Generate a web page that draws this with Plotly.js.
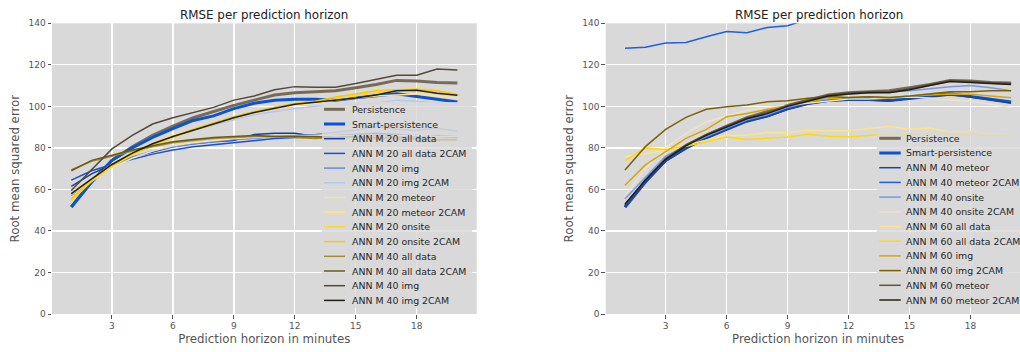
<!DOCTYPE html>
<html>
<head>
<meta charset="utf-8">
<script src="https://cdn.plot.ly/plotly-3.0.1.min.js"></script>
<style>
html,body{margin:0;padding:0;overflow:hidden;background:#ffffff;}
#chart{width:1040px;height:352px;}
</style>
</head>
<body>
<div id="chart"></div>
<script>
// ---------------- data ----------------
const minutes = [1,2,3,4,5,6,7,8,9,10,11,12,13,14,15,16,17,18,19,20];
const xTicks = [3,6,9,12,15,18];
const yTicks = [0,20,40,60,80,100,120,140];
const chartTitle = "RMSE per prediction horizon";
const xTitle = "Prediction horizon in minutes";
const yTitle = "Root mean squared error";

const persistence      = [51.5,63.5,74,80.5,86,90.5,94.5,97.5,100.5,103,105.5,106.5,107,107.5,109,110.5,112.5,112.2,111.5,111.2];
const smartPersistence = [51.5,63.7,74,80,85,89.3,93.2,95.4,98.9,101.5,102.9,103.4,103.4,102.9,104.2,105.3,106.1,104.8,103.5,102.1];

// left panel (ANN M 20 / ANN M 40)
const m20AllData      = [61.5,67.5,72,75.5,78,80.5,82,83,83.5,86.5,87,87,85.5,86,86.5,87,86.5,86,85.5,85];
const m20AllData2CAM  = [64.5,69,72,74.5,77,79,80.5,81.5,82.5,83.5,84.5,85,85.5,85,85.5,86,86,85.5,86,85.5];
const m20Img          = [57,64,71,75.5,78.5,80.5,82,83,84,84.5,85.5,86,86.5,87.5,88.5,90.5,89,88.5,89.5,88];
const m20Img2CAM      = [57.5,65,72,77,81.5,85,88.5,91,93.5,96,97.5,99,100,100.5,101,101.5,103,102.5,101.5,100.5];
const m20Meteor       = [56,64,70.5,75,78.5,81,82.5,83.5,84.5,85,85.5,85.5,86,86,86,85.5,86,86,85.5,85.5];
const m20Meteor2CAM   = [56,65,72,77.5,82,86,89,92,94.5,97,99,100.5,101.5,103,104,105,105.5,106,105,104];
const m20Onsite       = [54.5,64,71,76.5,81,85,88.5,91.5,94.5,97,99.5,101,102,103.5,105,106.5,108,108.5,107.5,106];
const m20Onsite2CAM   = [55.5,65,72,77,81.5,85.5,89,92,95,97.5,99.5,101.5,102.5,104.5,106,107.5,108,108,107.5,105.5];
const m40AllData      = [69.5,73.5,76,78.5,80.5,82.5,83.5,84.5,85,85.5,85.5,85,84.5,85,85,84.5,84,84,83.5,83.5];
const m40AllData2CAM  = [69,74,76.5,79,81,83,84,85,85.5,86,85.5,85.5,85.5,85,85.5,85,85,84.5,84,84];
const m40Img          = [59.5,69.5,79.5,86,91.5,94.5,97,99.5,103,105,108,109.5,109.2,109.2,111,113,115,115,118,117.5];
const m40Img2CAM      = [58,65,72,77.5,82,85.5,88.5,91.5,94.5,97,99,101,102,103,104,105.5,107.5,107.8,106.3,105.4];

// right panel (ANN M 40 / ANN M 60)
const m40Meteor       = [51.5,63.5,73.5,79.5,84.5,88.5,92.5,95,98.5,101,102.5,103,103,102.5,103.5,104.5,105.5,104.5,103,101.5];
const m40Meteor2CAM   = [128,128.5,130.5,130.8,133.5,136,135.5,138,138.8,142,144,145,146,147,148,149,150,150,151,151];
const m40Onsite       = [55.5,66,76,81,85.5,89.5,93.5,96,99.5,102,104.5,106,106.5,107,107.5,108.5,109.5,110,109,107.5];
const m40Onsite2CAM   = [57,70,80,87,92.5,95.5,98,99.5,100.5,101.5,102.5,103.5,103.5,104,104.5,104,103,102.5,101,99.5];
const m60AllData      = [75.8,77.2,79,81.3,83.7,86.1,86.1,87.4,87.4,88.5,88.2,88.2,89.3,90.3,89,89.6,87.7,88,86.9,86.5];
const m60AllData2CAM  = [73.7,80,79.2,80.8,82.9,85.2,84,84.8,85.3,86.6,85.6,85.2,86,86.8,86.5,87,86.5,86.2,86,86.2];
const m60Img          = [62,71.8,78.2,84.6,88.9,95,96.6,98.6,100.2,102.2,103.5,104.3,104.5,104,105,105.5,106,105.8,105,104.2];
const m60Img2CAM      = [69.3,80.6,88.9,94.7,98.6,99.8,100.6,102.2,102.7,103.9,104.7,104.3,104.6,104.3,105,106,107,107,107.5,107.5];
const m60Meteor       = [52.5,64.5,75,81.5,86.5,90.5,94.5,97,100.5,103,105.5,106.5,107,107,108.5,110.5,112.5,112,111.5,111];
const m60Meteor2CAM   = [53,64.5,74.5,81,86,90,94,96.5,100,102.5,105,106,106.5,106.5,108,110,112,111.5,111,110.5];

const leftNames = ["Persistence","Smart-persistence","ANN M 20 all data","ANN M 20 all data 2CAM","ANN M 20 img","ANN M 20 img 2CAM","ANN M 20 meteor","ANN M 20 meteor 2CAM","ANN M 20 onsite","ANN M 20 onsite 2CAM","ANN M 40 all data","ANN M 40 all data 2CAM","ANN M 40 img","ANN M 40 img 2CAM"];
const leftSeries = [persistence,smartPersistence,m20AllData,m20AllData2CAM,m20Img,m20Img2CAM,m20Meteor,m20Meteor2CAM,m20Onsite,m20Onsite2CAM,m40AllData,m40AllData2CAM,m40Img,m40Img2CAM];
const leftColors = ["#776b55","#0a52d6","#1a3f99","#1a4fd6","#6a8ad6","#b8c6ee","#efe3bd","#fde48a","#ffd81e","#f8c800","#a88d2e","#6e5a10","#55493a","#231f17"];

const rightNames = ["Persistence","Smart-persistence","ANN M 40 meteor","ANN M 40 meteor 2CAM","ANN M 40 onsite","ANN M 40 onsite 2CAM","ANN M 60 all data","ANN M 60 all data 2CAM","ANN M 60 img","ANN M 60 img 2CAM","ANN M 60 meteor","ANN M 60 meteor 2CAM"];
const rightSeries = [persistence,smartPersistence,m40Meteor,m40Meteor2CAM,m40Onsite,m40Onsite2CAM,m60AllData,m60AllData2CAM,m60Img,m60Img2CAM,m60Meteor,m60Meteor2CAM];
const rightColors = ["#776b55","#0a52d6","#1745a8","#1d5fdf","#7797f0","#f0e3c6","#fde38a","#ffdb00","#d4a80c","#7a6206","#5d5338","#231f12"];

// ---------------- layout helpers ----------------
const W = 1040, H = 352;
const px = v => v / W;
const py = v => 1 - v / H;
const BG = "#d9d9d9";

const traces = [];
function addPanel(series, names, colors, xa, ya){
  series.forEach((ys, i) => {
    traces.push({
      x: minutes, y: ys, name: names[i], type: "scatter", mode: "lines",
      xaxis: xa, yaxis: ya, showlegend: false, hoverinfo: "skip",
      line: {color: colors[i], width: i < 2 ? 3 : 1.5}
    });
  });
}
addPanel(leftSeries, leftNames, leftColors, "x", "y");
addPanel(rightSeries, rightNames, rightColors, "x2", "y2");

const shapes = [];
const annotations = [];
function addLegend(names, colors, box, lineX0, lineX1, textX, row0, step){
  shapes.push({type:"rect", xref:"paper", yref:"paper", layer:"above",
    x0:px(box[0]), x1:px(box[2]), y0:py(box[3]), y1:py(box[1]),
    fillcolor:"rgba(217,217,217,0.82)", line:{width:0}});
  names.forEach((n, i) => {
    const yy = row0 + i * step;
    shapes.push({type:"line", xref:"paper", yref:"paper", layer:"above",
      x0:px(lineX0), x1:px(lineX1), y0:py(yy), y1:py(yy),
      line:{color:colors[i], width: i < 2 ? 3 : 1.5}});
    annotations.push({text:n, xref:"paper", yref:"paper", x:px(textX - 2), y:py(yy),
      xanchor:"left", yanchor:"middle", showarrow:false,
      font:{family:"DejaVu Sans", size:9.4, color:"#262626"}});
  });
}
addLegend(leftNames, leftColors, [322,102,472,308], 324, 345, 351.7, 109.3, 14.7);
addLegend(rightNames, rightColors, [876.7,131.5,1040,307.5], 879.3, 900.7, 906, 138.3, 14.7);

annotations.push({text:chartTitle, xref:"paper", yref:"paper", x:px(264), y:py(14.7),
  xanchor:"center", yanchor:"middle", showarrow:false, font:{family:"DejaVu Sans", size:11.9, color:"#222222"}});
annotations.push({text:chartTitle, xref:"paper", yref:"paper", x:px(819), y:py(14.7),
  xanchor:"center", yanchor:"middle", showarrow:false, font:{family:"DejaVu Sans", size:11.9, color:"#222222"}});

function xAxis(domain){
  return {domain: domain, range:[0.05,20.95], tickvals:xTicks, ticktext:xTicks.map(String),
    showgrid:true, gridcolor:"#ffffff", gridwidth:1.3, zeroline:false, showline:false,
    ticks:"outside", ticklen:3.5, tickwidth:1, tickcolor:"#555555",
    tickfont:{family:"DejaVu Sans", size:9, color:"#555555"},
    title:{text:xTitle, font:{family:"DejaVu Sans", size:11.8, color:"#555555"}, standoff:4},
    fixedrange:true};
}
function yAxis(anchor){
  return {domain:[py(314), py(23.3)], range:[0,140], tickvals:yTicks, ticktext:yTicks.map(String),
    anchor: anchor,
    showgrid:true, gridcolor:"#ffffff", gridwidth:1.3, zeroline:false, showline:false,
    ticks:"outside", ticklen:3.5, tickwidth:1, tickcolor:"#555555",
    tickfont:{family:"DejaVu Sans", size:9, color:"#555555"},
    title:{text:yTitle, font:{family:"DejaVu Sans", size:11.8, color:"#555555"}, standoff:6},
    fixedrange:true};
}

const layout = {
  width: W, height: H,
  margin:{l:0, r:0, t:0, b:0},
  paper_bgcolor:"#ffffff", plot_bgcolor:BG,
  font:{family:"DejaVu Sans", color:"#555555"},
  showlegend:false,
  xaxis: Object.assign(xAxis([px(52), px(476.7)]), {anchor:"y"}),
  yaxis: yAxis("x"),
  xaxis2: Object.assign(xAxis([px(605.7), px(1030.4)]), {anchor:"y2"}),
  yaxis2: yAxis("x2"),
  shapes: shapes,
  annotations: annotations
};

Plotly.newPlot("chart", traces, layout, {staticPlot:true, displayModeBar:false});
</script>
</body>
</html>
